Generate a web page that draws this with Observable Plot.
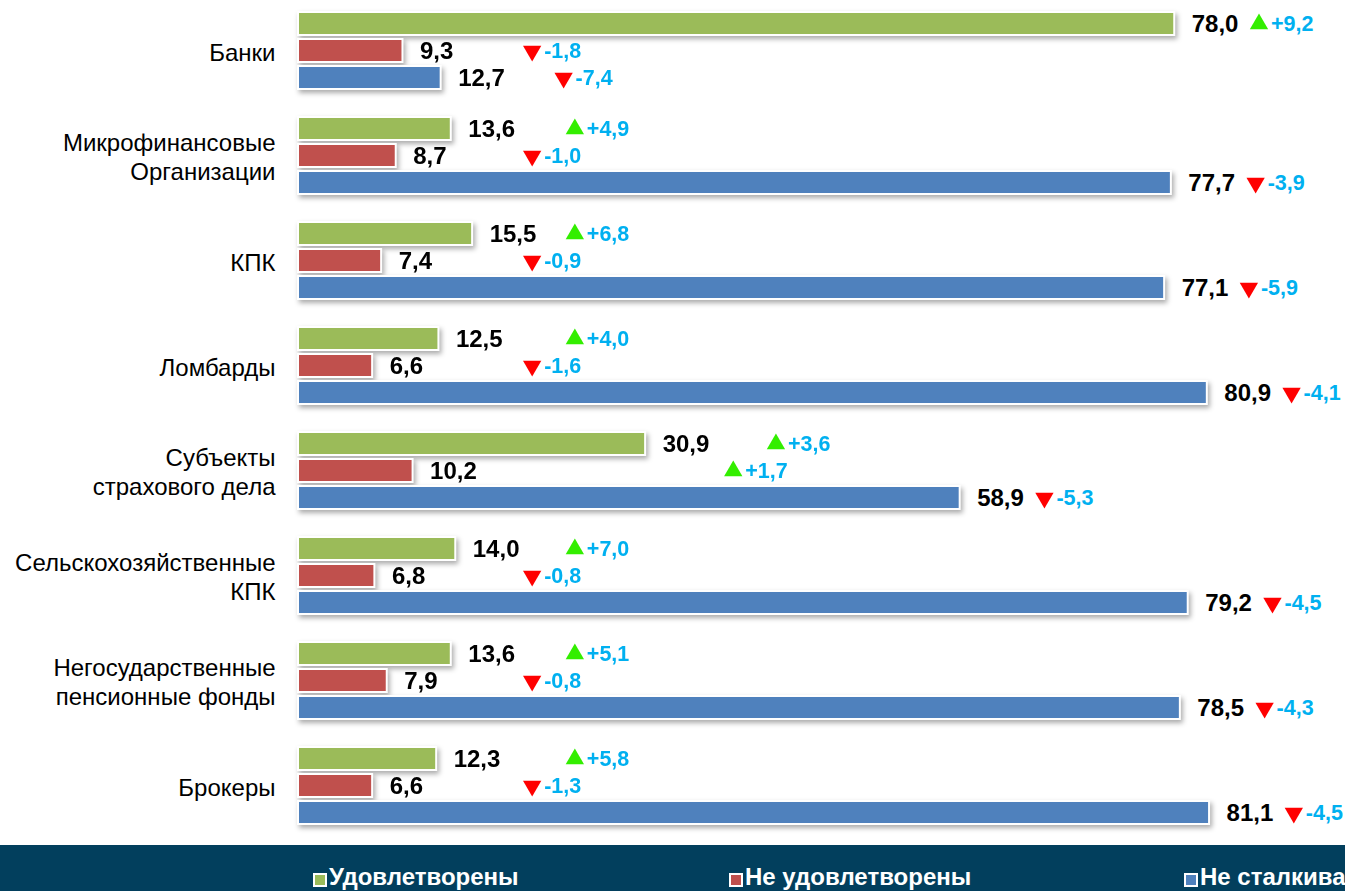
<!DOCTYPE html>
<html>
<head>
<meta charset="utf-8">
<script src="https://cdn.jsdelivr.net/npm/d3@7"></script>
<script src="https://cdn.jsdelivr.net/npm/@observablehq/plot@0.6"></script>
<style>
  html, body { margin: 0; padding: 0; background: #fff; overflow: hidden; width: 1345px; height: 891px; }
  #chart svg { display: block; }
  #legend { position: relative; width: 1345px; height: 46px; background: #023F5D; overflow: hidden;
            font-family: Arial, "Liberation Sans", sans-serif; }
  .item { position: absolute; top: 0; height: 46px; white-space: nowrap; }
  .sw { position: absolute; top: 28px; width: 14px; height: 14px; box-sizing: border-box; border: 2px solid #fff; }
  .lt { position: absolute; top: 20px; left: 16px; font-size: 24px; line-height: 24px; font-weight: bold; color: #fff; }
</style>
</head>
<body>
<div id="chart"></div>
<div id="legend"></div>
<script>
const categories = ["Банки", "Микрофинансовые\nОрганизации", "КПК", "Ломбарды", "Субъекты\nстрахового дела",
  "Сельскохозяйственные\nКПК", "Негосударственные\nпенсионные фонды", "Брокеры"];
const series = ["Удовлетворены", "Не удовлетворены", "Не сталкивались"];
const satisfied = [78.0, 13.6, 15.5, 12.5, 30.9, 14.0, 13.6, 12.3];
const notSatisfied = [9.3, 8.7, 7.4, 6.6, 10.2, 6.8, 7.9, 6.6];
const notEncountered = [12.7, 77.7, 77.1, 80.9, 58.9, 79.2, 78.5, 81.1];
const satisfiedChange = [9.2, 4.9, 6.8, 4.0, 3.6, 7.0, 5.1, 5.8];
const notSatisfiedChange = [-1.8, -1.0, -0.9, -1.6, 1.7, -0.8, -0.8, -1.3];
const notEncounteredChange = [-7.4, -3.9, -5.9, -4.1, -5.3, -4.5, -4.3, -4.5];
const colors = ["#9BBB59", "#C0504D", "#4F81BD"];
const legendLeft = [313, 729, 1184];

const values = [satisfied, notSatisfied, notEncountered];
const changes = [satisfiedChange, notSatisfiedChange, notEncounteredChange];

// annotation column layout (value units)
const seriesShift = [0, -3.8, -1.0];
const rows = [];
categories.forEach((c, i) => {
  const shorts = values.map(v => v[i]).filter(v => v < 50);
  const maxShort = d3.max(shorts);
  const col = maxShort > 20 ? maxShort + 11.6 : 24.6;
  series.forEach((s, j) => {
    const v = values[j][i];
    rows.push({
      category: c, series: s, value: v, change: changes[j][i],
      anchor: v >= 50 ? v + 7.5 : col + seriesShift[j]
    });
  });
});

const fmt = v => d3.format(".1f")(v).replace(".", ",");
const fmtSigned = v => (v > 0 ? "+" : "") + d3.format(".1f")(v).replace(".", ",").replace("−", "-");

const plot = Plot.plot({
  width: 1345,
  height: 845,
  marginLeft: 298,
  marginRight: 0,
  marginTop: 10,
  marginBottom: 17,
  style: { fontFamily: 'Arial, "Liberation Sans", sans-serif', background: "transparent", overflow: "visible" },
  x: { domain: [0, 93.2], axis: null },
  fy: { domain: categories, paddingInner: 0.235, paddingOuter: 0, axis: null },
  y: { domain: series, paddingInner: 0.14, paddingOuter: 0, axis: null },
  color: { domain: series, range: colors },
  marks: [
    Plot.axisFy({ anchor: "left", tickSize: 0, tickPadding: 23, fontSize: 24, lineHeight: 1.17, label: null, fill: "#000" }),
    Plot.barX(rows, { x: "value", y: "series", fy: "category", fill: "series", stroke: "#fff", strokeWidth: 2 }),
    Plot.text(rows, { x: "value", y: "series", fy: "category", text: d => fmt(d.value), dx: 17, textAnchor: "start",
      fontWeight: "bold", fontSize: 24, fill: "#000" }),
    Plot.dot(rows, { x: "anchor", y: "series", fy: "category", symbol: "triangle", r: 6.8,
      fill: d => d.change > 0 ? "#33EE00" : "#FF0000", rotate: d => d.change > 0 ? 0 : 180, stroke: null }),
    Plot.text(rows, { x: "anchor", y: "series", fy: "category", text: d => fmtSigned(d.change), dx: 12, textAnchor: "start",
      fontWeight: "bold", fontSize: 21.5, fill: "#00B0F0" })
  ]
});

d3.select(plot).selectAll('g[aria-label="bar"]').style("filter", "drop-shadow(2px 3px 2.5px rgba(0,0,0,0.33))");
document.getElementById("chart").appendChild(plot);

const legend = d3.select("#legend");
series.forEach((s, j) => {
  const it = legend.append("div").attr("class", "item").style("left", legendLeft[j] + "px");
  it.append("span").attr("class", "sw").style("background", colors[j]);
  it.append("span").attr("class", "lt").text(s);
});
</script>
</body>
</html>
